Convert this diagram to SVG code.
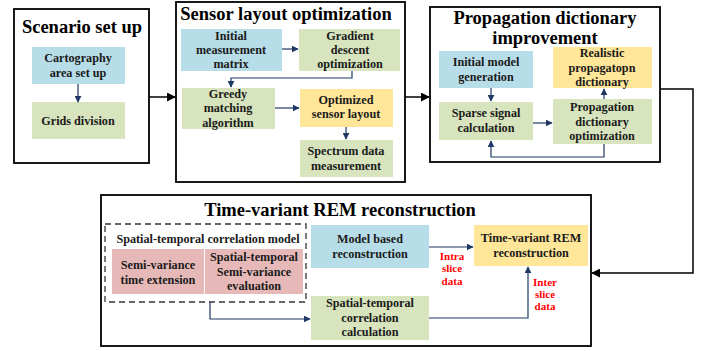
<svg xmlns="http://www.w3.org/2000/svg" width="709" height="351" viewBox="0 0 709 351">
<defs>
<marker id="ab" viewBox="0 0 10 10" refX="9" refY="5" markerWidth="7" markerHeight="7" markerUnits="userSpaceOnUse" orient="auto"><path d="M0,0 L10,5 L0,10 z" fill="#1f3864"/></marker>
<marker id="ak" viewBox="0 0 10 10" refX="9" refY="5" markerWidth="9" markerHeight="9" markerUnits="userSpaceOnUse" orient="auto"><path d="M0,0 L10,5 L0,10 z" fill="#000"/></marker>
</defs>
<style>
text{font-family:"Liberation Serif","Times New Roman",serif;font-weight:bold;fill:#1a1a1a;text-anchor:middle}
.t{font-size:18.5px;fill:#000}
.n{font-size:12.2px}
.r{font-size:11px;fill:#ff0000}
.outer{fill:#fff;stroke:#000;stroke-width:1.8}
.blue{fill:#b7dde8}
.green{fill:#d7e4bd}
.yellow{fill:#ffe699}
.pink{fill:#e6b9b8}
.c{fill:none;stroke:#1f3864;stroke-width:1.2;marker-end:url(#ab)}
.k{fill:none;stroke:#000;stroke-width:1.5;marker-end:url(#ak)}
</style>
<rect width="709" height="351" fill="#fff"/>

<g id="scenario">
<rect class="outer" x="14" y="9" width="135" height="154"/>
<text class="t" x="82" y="33">Scenario set up</text>
</g>
<g id="cartography">
<rect class="blue" x="32" y="47" width="93" height="37"/>
<text class="n" x="78" y="62">Cartography</text>
<text class="n" x="78" y="77">area set up</text>
</g>
<g id="grids">
<rect class="green" x="32" y="102" width="93" height="37"/>
<text class="n" x="78" y="125">Grids division</text>
</g>

<g id="sensor">
<rect class="outer" x="176" y="2" width="229" height="180"/>
<text class="t" x="286" y="20">Sensor layout optimization</text>
</g>
<g id="initial-matrix">
<rect class="blue" x="181" y="29" width="101" height="42"/>
<text class="n" x="231" y="40">Initial</text>
<text class="n" x="231" y="54">measurement</text>
<text class="n" x="231" y="68">matrix</text>
</g>
<g id="gradient">
<rect class="green" x="299" y="29" width="101" height="42"/>
<text class="n" x="350" y="40">Gradient</text>
<text class="n" x="350" y="54">descent</text>
<text class="n" x="350" y="68">optimization</text>
</g>
<g id="greedy">
<rect class="green" x="182" y="88" width="93" height="41"/>
<text class="n" x="228" y="98">Greedy</text>
<text class="n" x="228" y="112">matching</text>
<text class="n" x="228" y="127">algorithm</text>
</g>
<g id="optimized">
<rect class="yellow" x="300" y="89" width="93" height="38"/>
<text class="n" x="346" y="104">Optimized</text>
<text class="n" x="346" y="118">sensor layout</text>
</g>
<g id="spectrum">
<rect class="green" x="300" y="140" width="93" height="37"/>
<text class="n" x="346" y="155">Spectrum data</text>
<text class="n" x="346" y="170">measurement</text>
</g>

<g id="propagation">
<rect class="outer" x="430" y="7" width="230" height="155"/>
<text class="t" x="545" y="24">Propagation dictionary</text>
<text class="t" x="545" y="44">improvement</text>
</g>
<g id="initial-model">
<rect class="blue" x="439" y="51" width="94" height="37"/>
<text class="n" x="486" y="66">Initial model</text>
<text class="n" x="486" y="81">generation</text>
</g>
<g id="realistic">
<rect class="yellow" x="553" y="47" width="99" height="41"/>
<text class="n" x="602" y="57">Realistic</text>
<text class="n" x="602" y="72">propagatopn</text>
<text class="n" x="602" y="86">dictionary</text>
</g>
<g id="sparse">
<rect class="green" x="439" y="102" width="94" height="38"/>
<text class="n" x="486" y="117">Sparse signal</text>
<text class="n" x="486" y="132">calculation</text>
</g>
<g id="dict-opt">
<rect class="green" x="553" y="99" width="99" height="45"/>
<text class="n" x="602" y="111">Propagation</text>
<text class="n" x="602" y="126">dictionary</text>
<text class="n" x="602" y="140">optimization</text>
</g>

<g id="timevariant">
<rect class="outer" x="101" y="195" width="490" height="151"/>
<text class="t" x="340" y="216">Time-variant REM reconstruction</text>
</g>
<g id="stc-model">
<rect x="105" y="224" width="201" height="78" fill="none" stroke="#333" stroke-width="1.3" stroke-dasharray="6,4"/>
<text class="n" x="208" y="243">Spatial-temporal correlation model</text>
</g>
<g id="semi-ext">
<rect class="pink" x="112" y="249" width="92" height="45"/>
<text class="n" x="158" y="269">Semi-variance</text>
<text class="n" x="158" y="284">time extension</text>
</g>
<g id="semi-eval">
<rect class="pink" x="205" y="249" width="98" height="45"/>
<text class="n" x="254" y="261">Spatial-temporal</text>
<text class="n" x="254" y="276">Semi-variance</text>
<text class="n" x="254" y="290">evaluation</text>
</g>
<g id="model-based">
<rect class="blue" x="311" y="225" width="118" height="43"/>
<text class="n" x="370" y="243">Model based</text>
<text class="n" x="370" y="258">reconstruction</text>
</g>
<g id="tv-rem">
<rect class="yellow" x="474" y="225" width="114" height="41"/>
<text class="n" x="531" y="242">Time-variant REM</text>
<text class="n" x="531" y="257">reconstruction</text>
</g>
<g id="stc-calc">
<rect class="green" x="311" y="296" width="118" height="44"/>
<text class="n" x="370" y="307">Spatial-temporal</text>
<text class="n" x="370" y="322">correlation</text>
<text class="n" x="370" y="336">calculation</text>
</g>

<g id="connectors">
<path class="c" d="M78,84 V102"/>
<path class="k" d="M149,97 H175"/>
<path class="c" d="M282,49 H298"/>
<path class="c" d="M352,71 V78 H231 V87"/>
<path class="c" d="M275,108 H299"/>
<path class="c" d="M346,127 V139"/>
<path class="k" d="M405,97 H429"/>
<path class="c" d="M491,88 V101"/>
<path class="c" d="M533,123 H552"/>
<path class="c" d="M604,99 V89"/>
<path class="c" d="M604,144 V157 H491 V141"/>
<path class="k" d="M660,89 H693 V273 H592"/>
<path class="c" d="M429,247 H473"/>
<path class="c" d="M210,302 V319 H310"/>
<path class="c" d="M429,318 H528 V267"/>
<text class="r" x="452" y="260">Intra</text>
<text class="r" x="452" y="272">slice</text>
<text class="r" x="452" y="285">data</text>
<text class="r" x="545" y="286">Inter</text>
<text class="r" x="545" y="298">slice</text>
<text class="r" x="545" y="310">data</text>
</g>
</svg>
